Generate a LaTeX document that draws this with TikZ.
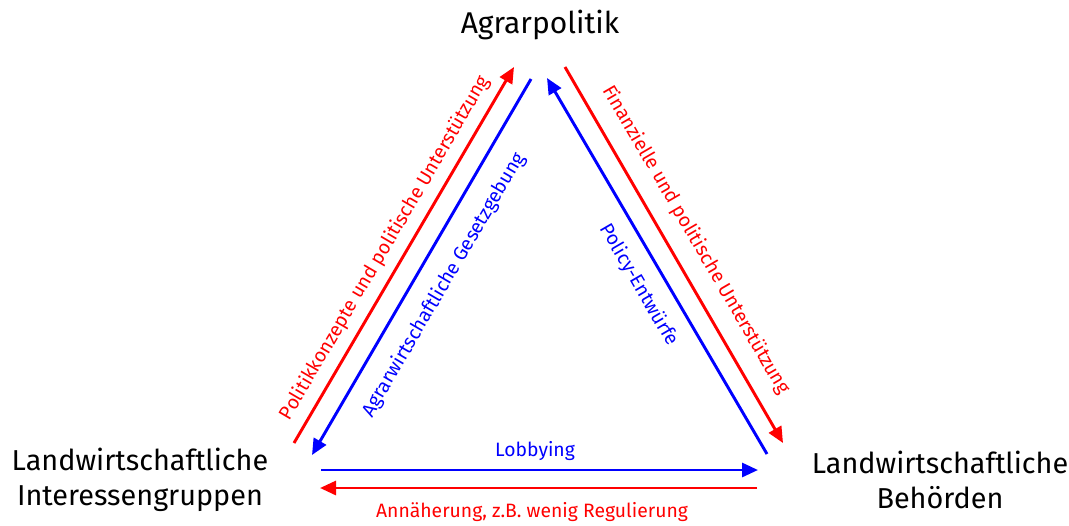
\documentclass[tikz,border=0pt]{standalone}
\usepackage{fontspec}
\setmainfont{Fira Sans}
\usetikzlibrary{arrows.meta}
\definecolor{pred}{RGB}{255,0,0}
\definecolor{pblue}{RGB}{0,0,255}
\tikzset{
  actor/.style={font=\fontsize{21.6}{26.5}\selectfont, align=center, text=black, inner sep=0pt},
  flow/.style={line width=2.2pt, -{Triangle[length=12pt,width=10.5pt]}},
  redflow/.style={flow, draw=pred},
  blueflow/.style={flow, draw=pblue},
  lbl/.style={font=\fontsize{14.5}{16}\selectfont, inner sep=0pt},
}
\begin{document}
\begin{tikzpicture}[x=0.75pt,y=-0.75pt]
\useasboundingbox (0,0) rectangle (1069,525);
\node[actor, font=\fontsize{22.5}{26}\selectfont] (ap) at (540,25) {Agrarpolitik};
\node[actor] (ig) at (140,480) {Landwirtschaftliche\\Interessengruppen};
\node[actor] (bh) at (940,480) {Landwirtschaftliche\\Behörden};

\coordinate (r1s) at (294,443); \coordinate (r1e) at (514,67);
\coordinate (b1s) at (531,79);  \coordinate (b1e) at (312,455);
\coordinate (b2s) at (767,454); \coordinate (b2e) at (547,78);
\coordinate (r2s) at (565,67);  \coordinate (r2e) at (783,443);
\coordinate (b3s) at (321,470); \coordinate (b3e) at (758,470);
\coordinate (r3s) at (757,488); \coordinate (r3e) at (320,488);

\draw[redflow] (r1s) -- (r1e);
\draw[blueflow] (b1s) -- (b1e);
\draw[blueflow] (b2s) -- (b2e);
\draw[redflow] (r2s) -- (r2e);
\draw[blueflow] (b3s) -- (b3e);
\draw[redflow] (r3s) -- (r3e);

\node[lbl, text=pred, rotate=59.6] (l1) at (385,248) {Politikkonzepte und politische Unterstützung};
\node[lbl, text=pblue, rotate=59.6] (l2) at (444,285) {Agrarwirtschaftliche Gesetzgebung};
\node[lbl, text=pblue, rotate=-59.8] (l3) at (639,285) {Policy-Entwürfe};
\node[lbl, text=pred, rotate=-59.8] (l4) at (696,240) {Finanzielle und politische Unterstützung};
\node[lbl, text=pblue] (l5) at (535,451) {Lobbying};
\node[lbl, text=pred] (l6) at (532,512) {Annäherung, z.B. wenig Regulierung};
\end{tikzpicture}
\end{document}
